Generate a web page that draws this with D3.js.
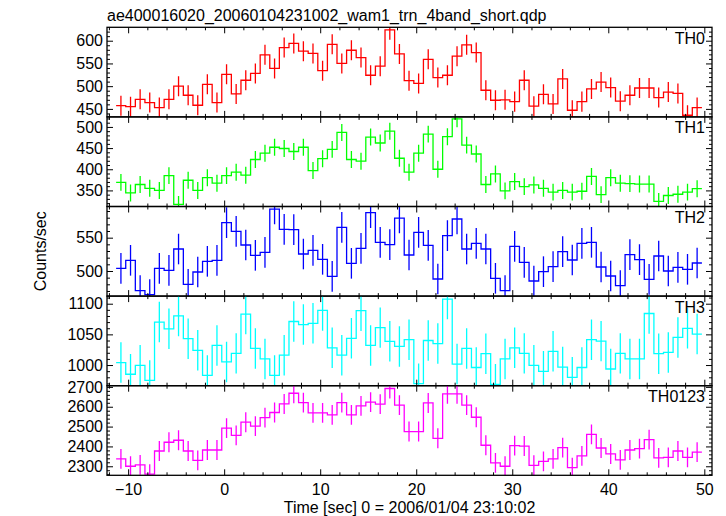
<!DOCTYPE html>
<html><head><meta charset="utf-8">
<script src="https://cdn.jsdelivr.net/npm/d3@7"></script>
<style>body{margin:0;background:#fff}svg text{font-family:"Liberation Sans",Arial,sans-serif}</style>
</head><body>
<svg id="c" width="726" height="516"></svg>
<script>
const titleText = "ae400016020_20060104231002_wam1_trn_4band_short.qdp";
const xLabel = "Time [sec] 0 = 2006/01/04 23:10:02";
const yLabel = "Counts/sec";
const binStart = -10.75, binWidth = 1;
const panelNames = ["TH0","TH1","TH2","TH3","TH0123"];
const panelColors = ["#ff0000","#00ff00","#0000ff","#00ffff","#ff00ff"];

const th0 = [457,455,471,464,453,471,500,480,458,504,464,526,483,513,528,569,539,585,594,577,572,534,592,550,579,563,524,544,624,571,512,506,559,519,524,566,591,574,491,469,470,466,513,456,482,461,516,447,466,494,509,497,467,480,496,496,475,487,484,436,453];
const th1 = [369,344,364,355,350,385,317,374,350,380,367,385,393,386,423,438,452,449,442,452,397,425,447,487,423,419,476,462,490,426,393,438,483,400,477,519,457,436,364,389,349,371,359,363,355,346,350,346,348,383,340,380,367,366,365,365,324,338,341,346,354];
const th2 = [504,516,470.5,464.5,504,501,533,480,498.5,514.5,516,572.5,559.5,539,523.5,528,593,562.5,562,525.5,531,517.5,492,565.5,511.5,534,587.5,543,539.5,579.5,524,558,538.5,488,553,578,533,541.5,533,489,470.5,537,513,485,499,506.5,529,516.5,541.5,543,506,492.5,478,524.5,517,487.5,522.5,500,505.5,502.5,512];
const th3 = [1004,985,999.5,975,1070,1059,1080,1043,1024,983,1032,1005,1019,1083,1027,1010,983,1016,1071,1066,1068,1089,1028,1016,1043.5,1088.6,1032,1061,1038.6,1030.4,1041.3,969.6,1040,1035,1107.6,1001.6,1027,996,1018.5,968.5,1010,1028,1019,999.5,989.7,1022.3,996.7,980,996,1041.3,1039,993.5,1019,1010,1010,1084,1018.5,1020.6,1045,1059.8,1050.5];
const th0123 = [2337,2300,2307,2260,2377,2421,2431,2377,2330,2382,2382,2492,2456,2522,2502,2545,2571,2614,2668,2621,2569,2569,2559,2621,2559,2604,2623,2613,2692,2608,2475,2475,2619,2441,2665,2665,2608,2547,2406,2317,2300,2404,2402,2305,2325,2337,2394,2293,2352,2461,2392,2362,2332,2382,2389,2434,2342,2345,2377,2345,2371];
const panelErrors = [22,20,23,33,50];
const panelDomains = [[432.4,629.5],[312,523.7],[462.3,596.8],[966.3,1112.4],[2254.5,2706]];
const yMajorTicks = [[450,500,550,600],[350,400,450,500],[500,550],[1000,1050,1100],[2300,2400,2500,2600,2700]];
const yMinorSteps = [10,10,10,10,20];
const xMajorTicks = [-10,0,10,20,30,40,50];
const xDomain = [-12.2, 50.8];

const series = [th0,th1,th2,th3,th0123];
const svg = d3.select("#c");
const L = 107, R = 712, T0 = 27.3, PH = 89.6;
const x = d3.scaleLinear().domain(xDomain).range([L,R]);
const xMinor = d3.range(-12, 51, 2).filter(v => v % 10 !== 0);
const fmt = v => (v < 0 ? "\u2212" + Math.abs(v) : String(v));

svg.append("text").attr("x", L).attr("y", 20.5).attr("font-size", 16).text(titleText);

series.forEach((vals, p) => {
  const top = T0 + p*PH, bot = top + PH;
  const y = d3.scaleLinear().domain(panelDomains[p]).range([bot, top]);
  const g = svg.append("g");
  const cid = "clip" + p;
  svg.append("clipPath").attr("id", cid).append("rect").attr("x", L).attr("y", top).attr("width", R-L).attr("height", PH);
  const col = panelColors[p];
  const data = vals.map((v,i) => ({t: binStart + i*binWidth, v}));
  const pts = [];
  data.forEach(d => { pts.push([d.t - binWidth/2, d.v]); pts.push([d.t + binWidth/2, d.v]); });
  const line = d3.line().x(d => x(d[0])).y(d => y(d[1]));
  const dg = g.append("g").attr("clip-path", `url(#${cid})`);
  dg.append("path").attr("d", line(pts)).attr("fill","none").attr("stroke", col).attr("stroke-width", 1.3);
  dg.selectAll("line.err").data(data).join("line")
    .attr("x1", d => x(d.t)).attr("x2", d => x(d.t))
    .attr("y1", d => y(d.v - panelErrors[p])).attr("y2", d => y(d.v + panelErrors[p]))
    .attr("stroke", col).attr("stroke-width", 1.3);

  const dom = panelDomains[p];
  const yMinor = d3.range(Math.ceil(dom[0]/yMinorSteps[p])*yMinorSteps[p], dom[1], yMinorSteps[p]).filter(v => !yMajorTicks[p].includes(v));
  const styleAx = a => { a.select(".domain").remove(); a.selectAll("line").attr("stroke","#000").attr("stroke-width",1); a.selectAll("text").attr("font-size",16).attr("font-family","Liberation Sans, Arial, sans-serif").attr("fill","#000"); };
  // left
  g.append("g").attr("transform",`translate(${L},0)`).call(d3.axisLeft(y).tickValues(yMajorTicks[p]).tickSize(-6).tickPadding(4).tickFormat(d3.format("d"))).call(styleAx);
  g.append("g").attr("transform",`translate(${L},0)`).call(d3.axisLeft(y).tickValues(yMinor).tickSize(-3).tickFormat("")).call(styleAx);
  // right
  g.append("g").attr("transform",`translate(${R},0)`).call(d3.axisRight(y).tickValues(yMajorTicks[p]).tickSize(-6).tickFormat("")).call(styleAx);
  g.append("g").attr("transform",`translate(${R},0)`).call(d3.axisRight(y).tickValues(yMinor).tickSize(-3).tickFormat("")).call(styleAx);
  // top
  g.append("g").attr("transform",`translate(0,${top})`).call(d3.axisTop(x).tickValues(xMajorTicks).tickSize(-6).tickFormat("")).call(styleAx);
  g.append("g").attr("transform",`translate(0,${top})`).call(d3.axisTop(x).tickValues(xMinor).tickSize(-3).tickFormat("")).call(styleAx);
  // bottom
  const bAx = g.append("g").attr("transform",`translate(0,${bot})`).call(d3.axisBottom(x).tickValues(xMajorTicks).tickSize(-6).tickPadding(8).tickFormat(p === 4 ? fmt : "")).call(styleAx);
  g.append("g").attr("transform",`translate(0,${bot})`).call(d3.axisBottom(x).tickValues(xMinor).tickSize(-3).tickFormat("")).call(styleAx);
  // frame
  g.append("rect").attr("x", L).attr("y", top).attr("width", R-L).attr("height", PH).attr("fill","none").attr("stroke","#000").attr("stroke-width",1.3);
  g.append("text").attr("x", R-7).attr("y", top+16.5).attr("text-anchor","end").attr("font-size",16).text(panelNames[p]);
});

svg.append("text").attr("x", (L+R)/2).attr("y", 513).attr("text-anchor","middle").attr("font-size",16).text(xLabel);
svg.append("text").attr("transform", `translate(46,${T0 + 2.5*PH}) rotate(-90)`).attr("text-anchor","middle").attr("font-size",16).text(yLabel);
</script>
</body></html>
